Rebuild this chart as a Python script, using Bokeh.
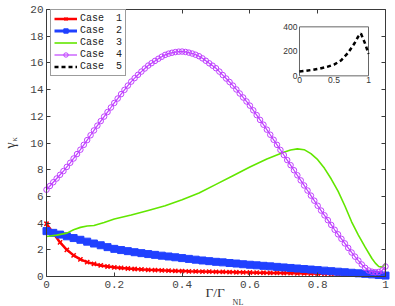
import math
from bokeh.plotting import figure
from bokeh.models import Range1d, FixedTicker, LinearAxis, Legend, LegendItem
from bokeh.embed import file_html
from bokeh.resources import INLINE
from bokeh.core.properties import value

# ---------------- data ----------------
x_ticks = [0, 0.2, 0.4, 0.6, 0.8, 1.0]
x_tick_labels = ["0", "0.2", "0.4", "0.6", "0.8", "1"]
y_ticks = [0, 2, 4, 6, 8, 10, 12, 14, 16, 18, 20]
y_tick_labels = ["0", "2", "4", "6", "8", "10", "12", "14", "16", "18", "20"]

inset_x_ticks = [0, 0.5, 1]
inset_x_labels = ["0", "0.5", "1"]
inset_y_ticks = [0, 200, 400]
inset_y_labels = ["0", "200", "400"]

series_labels = ["Case  1", "Case  2", "Case  3", "Case  4", "Case  5"]

x_fine = [round(i * 0.01, 2) for i in range(101)]
x_coarse = [round(i * 0.02, 2) for i in range(51)]

case1_y = [3.95, 3.25, 2.55, 2.00, 1.58, 1.28, 1.08, 0.94, 0.83, 0.75,
           0.69, 0.64, 0.60, 0.56, 0.53, 0.50, 0.48, 0.46, 0.44, 0.42,
           0.41, 0.39, 0.38, 0.37, 0.36, 0.35, 0.34, 0.33, 0.32, 0.31,
           0.30, 0.29, 0.28, 0.27, 0.27, 0.26, 0.25, 0.24, 0.23, 0.22,
           0.21, 0.20, 0.19, 0.18, 0.17, 0.16, 0.15, 0.14, 0.13, 0.12,
           0.11]

case2_y = [3.40, 3.27, 3.14, 3.01, 2.88, 2.75, 2.61, 2.47, 2.34, 2.20,
           2.07, 1.98, 1.90, 1.82, 1.75, 1.68, 1.62, 1.56, 1.50, 1.44,
           1.38, 1.32, 1.26, 1.20, 1.15, 1.10, 1.06, 1.01, 0.97, 0.92,
           0.88, 0.84, 0.80, 0.76, 0.72, 0.68, 0.64, 0.60, 0.56, 0.52,
           0.48, 0.44, 0.40, 0.36, 0.32, 0.28, 0.24, 0.20, 0.16, 0.11,
           0.07]

case3_x = [0, 0.03, 0.06, 0.08, 0.10, 0.12, 0.14, 0.17, 0.20, 0.25, 0.30,
           0.35, 0.40, 0.45, 0.50, 0.55, 0.60, 0.65, 0.70, 0.72, 0.74,
           0.76, 0.78, 0.80, 0.82, 0.84, 0.86, 0.88, 0.90, 0.92, 0.94,
           0.96, 0.97, 0.98, 0.99, 1.00]
case3_y = [3.00, 3.10, 3.25, 3.50, 3.68, 3.78, 3.82, 4.05, 4.30, 4.60, 4.95,
           5.30, 5.75, 6.25, 6.90, 7.55, 8.20, 8.80, 9.30, 9.48, 9.56,
           9.50, 9.20, 8.75, 8.10, 7.30, 6.40, 5.30, 4.10, 3.10, 2.20,
           1.35, 1.00, 0.75, 0.70, 1.00]

case4_y = [6.50, 6.78, 7.06, 7.34, 7.62, 7.90, 8.21, 8.52, 8.84, 9.17,
           9.50, 9.86, 10.22, 10.58, 10.94, 11.30, 11.64, 11.98, 12.32, 12.66,
           13.00, 13.33, 13.66, 13.98, 14.30, 14.60, 14.86, 15.11, 15.35, 15.58,
           15.80, 15.98, 16.15, 16.31, 16.46, 16.60, 16.69, 16.76, 16.81, 16.84,
           16.85, 16.82, 16.77, 16.70, 16.61, 16.50, 16.34, 16.16, 15.97, 15.79,
           15.60, 15.35, 15.09, 14.83, 14.57, 14.30, 14.01, 13.71, 13.41, 13.11,
           12.80, 12.45, 12.09, 11.73, 11.37, 11.00, 10.62, 10.24, 9.86, 9.48,
           9.10, 8.72, 8.34, 7.96, 7.58, 7.20, 6.82, 6.44, 6.06, 5.68,
           5.30, 4.94, 4.58, 4.22, 3.86, 3.50, 3.16, 2.82, 2.48, 2.14,
           1.80, 1.49, 1.19, 0.90, 0.65, 0.45, 0.36, 0.32, 0.34, 0.45,
           0.75]

case5_x = [0, 0.1, 0.2, 0.3, 0.4, 0.5, 0.6, 0.7, 0.8, 0.85, 0.89, 0.95, 1.0]
case5_y = [35, 42, 50, 60, 73, 92, 125, 185, 268, 320, 345, 265, 180]

# ---------------- styles ----------------
RED = "#ff0000"
BLUE = "#2040ff"
GREEN = "#62e600"
PURPLE = "#c040ff"
AX = "#3a3a3a"
TICK_FONT = "Liberation Mono"

# The frame covers the whole canvas; axes sit at fixed data locations so that
# every text (tick labels, axis titles) stays inside the drawable area.
p = figure(width=395, height=306,
           x_range=Range1d(-0.13569, 1.02950), y_range=Range1d(-2.247, 20.674),
           output_backend="svg", toolbar_location=None,
           min_border_left=0, min_border_right=0, min_border_top=0, min_border_bottom=0,
           x_axis_location=None, y_axis_location=None)
p.xgrid.visible = False
p.ygrid.visible = False
p.outline_line_color = None
p.background_fill_color = "white"
p.border_fill_color = "white"


def make_axis(ticks, labels, loc, bounds, show_labels, standoff):
    ax = LinearAxis(fixed_location=loc, bounds=bounds)
    ax.ticker = FixedTicker(ticks=ticks)
    ax.major_label_overrides = {t: l for t, l in zip(ticks, labels)}
    ax.minor_tick_line_color = None
    ax.major_tick_in = 4
    ax.major_tick_out = 0
    ax.axis_line_color = AX
    ax.major_tick_line_color = AX
    ax.major_label_standoff = standoff
    ax.major_label_text_font = TICK_FONT
    ax.major_label_text_font_size = "11px"
    ax.major_label_text_color = "#444444" if show_labels else None
    return ax


p.add_layout(make_axis(x_ticks, x_tick_labels, y_ticks[0], (x_ticks[0], x_ticks[-1]), True, 4), "below")
p.add_layout(make_axis(y_ticks, y_tick_labels, x_ticks[0], (y_ticks[0], y_ticks[-1]), True, 3), "left")
p.add_layout(make_axis(x_ticks, x_tick_labels, y_ticks[-1], (x_ticks[0], x_ticks[-1]), False, 0), "above")
p.add_layout(make_axis(y_ticks, y_tick_labels, x_ticks[-1], (y_ticks[0], y_ticks[-1]), False, 0), "right")

# ---------------- series ----------------
r1l = p.line(x_coarse, case1_y, line_color=RED, line_width=2.5)
r1m = p.scatter(x_coarse, case1_y, marker="x", size=6, line_color=RED, line_width=1.5)

r2l = p.line(x_coarse, case2_y, line_color=BLUE, line_width=3)
r2m = p.scatter(x_coarse, case2_y, marker="square", size=7, fill_color=BLUE, line_color=BLUE)

r3 = p.line(case3_x, case3_y, line_color=GREEN, line_width=1.6)

r4l = p.line(x_fine, case4_y, line_color=PURPLE, line_width=1.2)
r4m = p.scatter(x_fine, case4_y, marker="circle", size=5.5, fill_color=None,
                line_color=PURPLE, line_width=1)

# ---------------- inset ----------------
sub = p.subplot(x_source=Range1d(inset_x_ticks[0], inset_x_ticks[-1]),
                y_source=Range1d(inset_y_ticks[0], inset_y_ticks[-1]),
                x_target=Range1d(0.7463, 0.9499), y_target=Range1d(15.03, 18.70))
sub.quad(left=inset_x_ticks[0], right=inset_x_ticks[-1], bottom=inset_y_ticks[0],
         top=inset_y_ticks[-1], fill_color="white", line_color="#666666", line_width=1)
r5 = sub.line(case5_x, case5_y, line_color="black", line_width=2.5, line_dash="4 3")
sub.text(x=inset_x_ticks, y=[inset_y_ticks[0]] * len(inset_x_ticks), text=inset_x_labels,
         text_align="center", text_baseline="top", y_offset=1,
         text_font=value("Liberation Sans"), text_font_size="8.5px", text_color="#333333")
sub.text(x=[inset_x_ticks[0]] * len(inset_y_ticks), y=inset_y_ticks, text=inset_y_labels,
         text_align="right", text_baseline="middle", x_offset=-2,
         text_font=value("Liberation Sans"), text_font_size="8.5px", text_color="#333333")

# ---------------- legend ----------------
legend = Legend(items=[
    LegendItem(label=series_labels[0], renderers=[r1l, r1m]),
    LegendItem(label=series_labels[1], renderers=[r2l, r2m]),
    LegendItem(label=series_labels[2], renderers=[r3]),
    LegendItem(label=series_labels[3], renderers=[r4l, r4m]),
    LegendItem(label=series_labels[4], renderers=[r5]),
], location=(50, 230))
legend.label_text_font = TICK_FONT
legend.label_text_font_size = "10px"
legend.label_text_color = "#222222"
legend.glyph_width = 23
legend.glyph_height = 11
legend.label_height = 11
legend.label_standoff = 3
legend.spacing = 1
legend.padding = 3
legend.margin = 0
legend.border_line_color = AX
legend.border_line_width = 1
legend.background_fill_alpha = 1
p.add_layout(legend)

# ---------------- axis titles ----------------
serif = value("Liberation Serif")
p.text(x=[0.469], y=[-1.199], text=["Γ/Γ"], text_font=serif, text_font_size="13.5px",
       text_baseline="alphabetic", text_align="left", text_color="#333333")
p.text(x=[0.549], y=[-1.948], text=["NL"], text_font=serif, text_font_size="8px",
       text_baseline="alphabetic", text_align="left", text_color="#333333")
p.text(x=[-0.1062], y=[9.59], text=["γ"], text_font=serif, text_font_size="14px",
       angle=math.pi / 2, text_baseline="alphabetic", text_align="left", text_color="#333333")
p.text(x=[-0.0973], y=[10.11], text=["κ"], text_font=serif, text_font_size="8.5px",
       angle=math.pi / 2, text_baseline="alphabetic", text_align="left", text_color="#333333")

open("out.html", "w").write(file_html(p, INLINE))
